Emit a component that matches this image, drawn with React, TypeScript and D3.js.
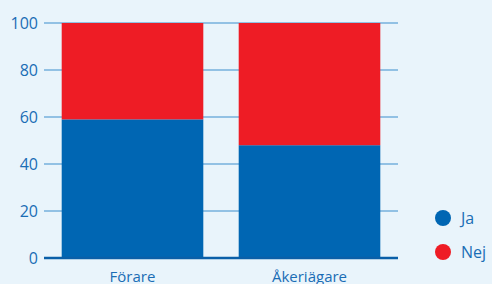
import React, { useEffect, useRef } from "react";
import * as d3 from "d3";

// Data
const categories = ["Förare", "Åkeriägare"];
const jaValues = [59, 48];
const nejValues = [41, 52];
const seriesNames = ["Ja", "Nej"];
const yTicks = [0, 20, 40, 60, 80, 100];

const App = () => {
  const ref = useRef<SVGSVGElement>(null);

  useEffect(() => {
    const svg = d3.select(ref.current);
    svg.selectAll("*").remove();

    const width = 492;
    const height = 284;
    const blue = "#0066b3";
    const red = "#ee1c25";
    const textColor = "#1a6db5";
    const font = "'Open Sans', sans-serif";

    // background
    svg.append("rect").attr("width", width).attr("height", height).attr("fill", "#e9f4fb");

    const x = d3.scaleBand().domain(categories).range([44, 398]).paddingInner(0.2).paddingOuter(0.1);
    const y = d3.scaleLinear().domain([0, 100]).range([258, 23]);

    // gridlines
    svg.append("g")
      .selectAll("line")
      .data(yTicks.filter((d) => d > 0))
      .enter()
      .append("line")
      .attr("x1", 44)
      .attr("x2", 398)
      .attr("y1", (d) => y(d))
      .attr("y2", (d) => y(d))
      .attr("stroke", "#74b1dc")
      .attr("stroke-width", 1.5);

    // stacked bars
    const rows = categories.map((c, i) => ({ cat: c, Ja: jaValues[i], Nej: nejValues[i] }));
    const stack = d3.stack<any>().keys(seriesNames)(rows);
    const color = d3.scaleOrdinal<string>().domain(seriesNames).range([blue, red]);

    svg.append("g")
      .selectAll("g")
      .data(stack)
      .enter()
      .append("g")
      .attr("fill", (d) => color(d.key))
      .selectAll("rect")
      .data((d) => d)
      .enter()
      .append("rect")
      .attr("x", (d) => x(d.data.cat)!)
      .attr("width", x.bandwidth())
      .attr("y", (d) => y(d[1]))
      .attr("height", (d) => y(d[0]) - y(d[1]));

    // baseline
    svg.append("line")
      .attr("x1", 44)
      .attr("x2", 398)
      .attr("y1", y(0))
      .attr("y2", y(0))
      .attr("stroke", "#0a5fa8")
      .attr("stroke-width", 2.5);

    // y tick labels
    svg.append("g")
      .selectAll("text")
      .data(yTicks)
      .enter()
      .append("text")
      .attr("x", 38)
      .attr("y", (d) => y(d))
      .attr("dy", "0.35em")
      .attr("text-anchor", "end")
      .attr("fill", textColor)
      .style("font-family", font)
      .style("font-size", "16px")
      .text((d) => d);

    // category labels
    svg.append("g")
      .selectAll("text")
      .data(categories)
      .enter()
      .append("text")
      .attr("x", (d) => x(d)! + x.bandwidth() / 2)
      .attr("y", 282)
      .attr("text-anchor", "middle")
      .attr("fill", textColor)
      .style("font-family", font)
      .style("font-size", "15px")
      .text((d) => d);

    // legend
    const legend = svg.append("g")
      .selectAll("g")
      .data(seriesNames)
      .enter()
      .append("g")
      .attr("transform", (d, i) => "translate(443," + (218 + i * 34) + ")");
    legend.append("circle").attr("r", 8).attr("fill", (d) => color(d));
    legend.append("text")
      .attr("x", 18)
      .attr("dy", "0.35em")
      .attr("fill", textColor)
      .style("font-family", font)
      .style("font-size", "16px")
      .text((d) => d);
  }, []);

  return (
    <svg ref={ref} width={492} height={284} style={{ position: "absolute", left: 0, top: 0 }}></svg>
  );
};

export default App;
